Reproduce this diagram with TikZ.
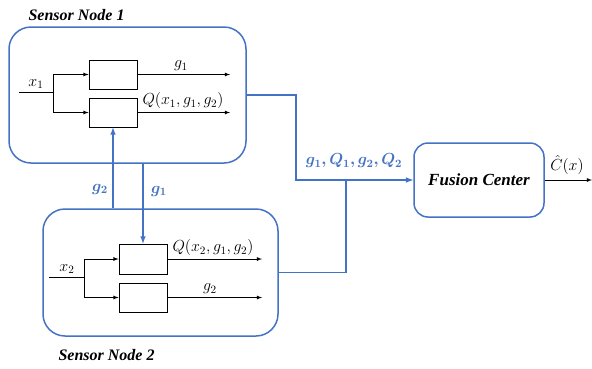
\RequirePackage{fix-cm}
\documentclass[tikz,border=0pt]{standalone}
\usepackage{amsmath}
\usepackage{bm}
\usepackage{fontspec}
\newfontfamily\headfont{Liberation Serif}
\usepackage{xcolor}
\usepackage{tikz}
\usetikzlibrary{
    positioning,
    calc,
    arrows
}
\definecolor{linkblue}{HTML}{4472C4}
\tikzset{
  sensor/.style = {
      draw=linkblue,
      line width=1.5pt,
      rounded corners=22pt,
      minimum width=237pt,
      minimum height=136pt
  },
  fusion/.style = {
      draw=linkblue,
      line width=1.5pt,
      rounded corners=14pt,
      minimum width=130pt,
      minimum height=74pt,
      font=\headfont\fontsize{17}{19}\selectfont\bfseries\itshape
  },
  block/.style = {
      draw,
      thick,
      minimum width=48pt,
      minimum height=29pt,
      inner sep=0pt
  },
  nodetitle/.style = {
      font=\headfont\fontsize{16}{19}\selectfont\bfseries\itshape
  },
  sig/.style = {
      thick,
      -latex
  },
  link/.style = {
      draw=linkblue,
      line width=1.5pt
  },
  tag/.style = {
      font=\fontsize{16}{18}\selectfont,
      inner sep=1pt
  },
  bluetag/.style = {
      tag,
      text=linkblue
  }
}
\begin{document}
\begin{tikzpicture}[x=1pt, y=-1pt]
    \useasboundingbox (0,0) rectangle (592,368);
    % Sensor node 1
    \node[sensor] (sn1) at (127.5,95) {};
    \node[nodetitle, anchor=west] (t1) at (25,15) {Sensor Node 1};
    \node[block] (a1) at (113,74.5) {};
    \node[block] (b1) at (113,112.5) {};
    \coordinate (x1in) at (19,92);
    \coordinate (x1br) at (53,92);
    \coordinate (o1a) at (230,74.5);
    \coordinate (o1b) at (230,112.5);
    \node[tag, anchor=south] (lx1) at (36,90) {$x_1$};
    \node[tag, anchor=south] (lg1a) at (181,72) {$g_1$};
    \node[tag, anchor=south] (lq1) at (183,110) {$Q(x_1, g_1, g_2)$};
    % Sensor node 2
    \node[sensor, minimum width=235pt, minimum height=127pt] (sn2) at (160.5,272.5) {};
    \node[nodetitle, anchor=west] (t2) at (55,355) {Sensor Node 2};
    \node[block, minimum height=30pt] (a2) at (143,259) {};
    \node[block] (b2) at (143,297.5) {};
    \coordinate (x2in) at (49,277);
    \coordinate (x2br) at (84,277);
    \coordinate (o2a) at (262,259);
    \coordinate (o2b) at (262,297.5);
    \node[tag, anchor=south] (lx2) at (67,275) {$x_2$};
    \node[tag, anchor=south] (lq2) at (213,257) {$Q(x_2, g_1, g_2)$};
    \node[tag, anchor=south] (lg2b) at (210,295) {$g_2$};
    % Fusion center
    \node[fusion] (fc) at (479,180) {Fusion Center};
    \coordinate (j1) at (296,180);
    \coordinate (j2) at (346,180);
    \coordinate (out) at (592,180);
    \node[tag, anchor=south] (lc) at (567,176) {$\hat{C}(x)$};
    \node[bluetag] (lbus) at (354,161) {$\bm{g_1, Q_1, g_2, Q_2}$};
    \node[bluetag] (lg2) at (100,189) {$\bm{g_2}$};
    \node[bluetag] (lg1) at (159,191) {$\bm{g_1}$};
    % Black edges
    \draw[thick] (x1in) -- (x1br);
    \draw[sig] (x1br) |- (a1.west);
    \draw[sig] (x1br) |- (b1.west);
    \draw[sig] (a1.east) -- (o1a);
    \draw[sig] (b1.east) -- (o1b);
    \draw[thick] (x2in) -- (x2br);
    \draw[sig] (x2br) |- (a2.west);
    \draw[sig] (x2br) |- (b2.west);
    \draw[sig] (a2.east) -- (o2a);
    \draw[sig] (b2.east) -- (o2b);
    \draw[sig] (fc.east) -- (out);
    % Blue edges
    \draw[link, -latex] (b1.south |- sn2.north) -- (b1.south);
    \draw[link, -latex] (a2.north |- sn1.south) -- (a2.north);
    \draw[link, -latex] (sn1.east) -| (j1) -- (fc.west);
    \draw[link] (sn2.east) -| (j2);
\end{tikzpicture}
\end{document}
